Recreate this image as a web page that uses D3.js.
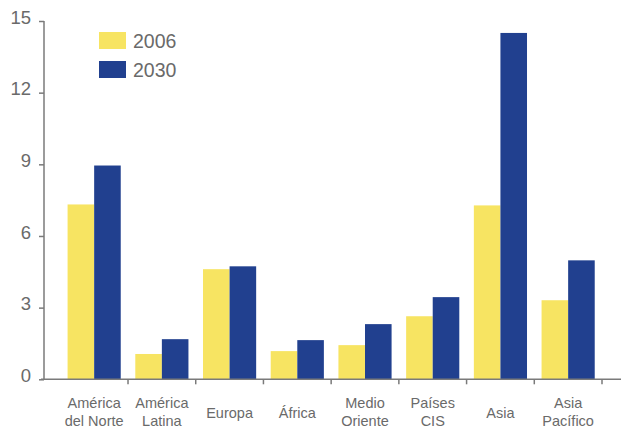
<!DOCTYPE html>
<html>
<head>
<meta charset="utf-8">
<script src="https://cdn.jsdelivr.net/npm/d3@7"></script>
<style>
  html, body { margin: 0; padding: 0; background: #fff; }
  svg { display: block; }
  text { font-family: "Liberation Sans", Arial, sans-serif; fill: #6a6a6a; }
</style>
</head>
<body>
<svg id="chart" width="624" height="428"></svg>
<script>
// Regions (each label may span two lines)
const regions = [
  ["América", "del Norte"],
  ["América", "Latina"],
  ["Europa"],
  ["África"],
  ["Medio", "Oriente"],
  ["Países", "CIS"],
  ["Asia"],
  ["Asia", "Pacífico"]
];
const seriesNames = ["2006", "2030"];
const values2006 = [7.32, 1.06, 4.61, 1.18, 1.43, 2.64, 7.28, 3.31];
const values2030 = [8.95, 1.68, 4.73, 1.64, 2.31, 3.44, 14.5, 4.98];
const yTicks = [0, 3, 6, 9, 12, 15];
const colors = ["#f7e462", "#21408f"];

const svg = d3.select("#chart");
const axisColor = "#7a7a7a";
const textColor = "#6e6e6e";

const y = d3.scaleLinear().domain([0, 15]).range([379.3, 21]);
const keys = regions.map(r => r.join(" "));
const x0 = d3.scaleBand().domain(keys).range([60.3, 602]).paddingInner(0).paddingOuter(0);
const groupW = x0.bandwidth() * 0.785;
const x1 = d3.scaleBand().domain(seriesNames).range([0, groupW]);

const series = [values2006, values2030];

// Bars
const g = svg.append("g");
regions.forEach((r, i) => {
  const gx = x0(keys[i]) + (x0.bandwidth() - groupW) / 2;
  series.forEach((vals, s) => {
    g.append("rect")
      .attr("x", gx + x1(seriesNames[s]))
      .attr("y", y(vals[i]))
      .attr("width", x1.bandwidth())
      .attr("height", y(0) - y(vals[i]))
      .attr("fill", colors[s]);
  });
});

// Y axis
const yAxis = d3.axisLeft(y).tickValues(yTicks).tickSize(5).tickPadding(8);
const ya = svg.append("g").attr("transform", "translate(44,0)").call(yAxis);
ya.select(".domain").attr("stroke", axisColor).attr("stroke-width", 1.5).attr("d", `M0,${y(15)}V${y(0)}`);
ya.selectAll(".tick line").attr("stroke", axisColor).attr("stroke-width", 1.5);
ya.selectAll(".tick text")
  .attr("font-size", 18.5)
  .attr("font-family", "Liberation Sans, Arial, sans-serif")
  .attr("fill", textColor)
  .attr("dy", "0.12em");

// X axis baseline with tick marks at category boundaries
const xa = svg.append("g");
xa.append("line")
  .attr("x1", 41).attr("x2", 621)
  .attr("y1", y(0)).attr("y2", y(0))
  .attr("stroke", axisColor).attr("stroke-width", 1.5);
keys.forEach(k => {
  const bx = x0(k) + x0.bandwidth();
  xa.append("line")
    .attr("x1", bx).attr("x2", bx)
    .attr("y1", y(0)).attr("y2", y(0) + 5)
    .attr("stroke", axisColor).attr("stroke-width", 1.5);
});

// Category labels
regions.forEach((r, i) => {
  const cx = x0(keys[i]) + x0.bandwidth() / 2;
  const t = svg.append("text")
    .attr("text-anchor", "middle")
    .attr("font-size", 14.5)
    .attr("fill", textColor);
  if (r.length === 1) {
    t.append("tspan").attr("x", cx).attr("y", 418).text(r[0]);
  } else {
    t.append("tspan").attr("x", cx).attr("y", 408).text(r[0]);
    t.append("tspan").attr("x", cx).attr("y", 426).text(r[1]);
  }
});

// Legend
const legend = svg.append("g");
seriesNames.forEach((name, s) => {
  const ly = 32 + s * 29;
  legend.append("rect")
    .attr("x", 99).attr("y", ly)
    .attr("width", 27).attr("height", 17)
    .attr("fill", colors[s]);
  legend.append("text")
    .attr("x", 133).attr("y", ly + 16)
    .attr("font-size", 19.5)
    .attr("fill", textColor)
    .text(name);
});
</script>
</body>
</html>
